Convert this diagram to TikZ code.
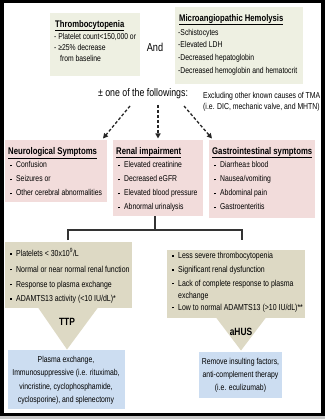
\documentclass[tikz,border=0pt]{standalone}
\usepackage{fontspec}
\setmainfont{Liberation Sans}[FakeStretch=0.8]
\usetikzlibrary{arrows.meta,calc}
\definecolor{topbox}{RGB}{238,240,226}
\definecolor{pinkbox}{RGB}{242,220,219}
\definecolor{tanbox}{RGB}{221,217,196}
\definecolor{bluebox}{RGB}{204,221,241}
\newcommand{\bul}{\makebox[6pt][l]{\raisebox{1.6pt}{\rule{1.8pt}{1.8pt}}}}
\begin{document}
\begin{tikzpicture}[x=1pt,y=-1pt,
  panel/.style={anchor=north west,inner sep=0pt,outer sep=0pt,draw=none},
  txt/.style={anchor=west,inner sep=0pt,text height=0.7em,text depth=0.2em,font=\fontsize{8.5}{10}\selectfont},
  txtc/.style={anchor=center,inner sep=0pt,text height=0.7em,text depth=0.2em,font=\fontsize{8.6}{10}\selectfont},
  head/.style={anchor=west,inner sep=0pt,text height=0.7em,text depth=0.25em,font=\bfseries\fontsize{9.7}{11}\selectfont},
  big/.style={anchor=center,inner sep=0pt,font=\fontsize{11}{13}\selectfont},
  lbl/.style={anchor=center,inner sep=0pt,font=\bfseries\fontsize{10.5}{12}\selectfont},
  dasharrow/.style={draw=black!85,line width=1.3pt,dash pattern=on 3pt off 2pt,-{Triangle[length=5pt,width=5pt]}},
  bracket/.style={draw=black!80,line width=1.2pt}]
\useasboundingbox (0,0) rectangle (325,419);
% frame
\fill[black] (0,0) rectangle (325,416);
\fill[white] (4,3) rectangle (321,413);
\fill[black!22] (0,416) rectangle (325,419);

% top boxes
\node[panel,fill=topbox,minimum width=90pt,minimum height=63pt] (thr) at (50,13) {};
\node[head,font=\bfseries\fontsize{9.6}{11}\selectfont] (thr-h) at (55,25) {\underline{Thrombocytopenia}};
\node[txt] (thr-1) at (54,37) {- Platelet count<150,000 or};
\node[txt] (thr-2) at (54,48) {- ≥25\% decrease};
\node[txt] (thr-3) at (60,59) {from baseline};

\node[panel,fill=topbox,minimum width=128pt,minimum height=77pt] (mah) at (175,7) {};
\node[head,font=\bfseries\fontsize{9.6}{11}\selectfont] (mah-h) at (179,19) {\underline{Microangiopathic Hemolysis}};
\node[txt] (mah-1) at (178,33) {-Schistocytes};
\node[txt] (mah-2) at (178,45) {-Elevated LDH};
\node[txt] (mah-3) at (178,58) {-Decreased hepatoglobin};
\node[txt] (mah-4) at (178,71) {-Decreased hemoglobin and hematocrit};

\node[big,font=\fontsize{11.5}{13}\selectfont] (and) at (155,47) {And};
\node[big] (one) at (143,94) {± one of the followings:};
\node[txt,font=\fontsize{8.6}{10}\selectfont] (ex-1) at (203,96) {Excluding other known causes of TMA};
\node[txt,font=\fontsize{8.6}{10}\selectfont] (ex-2) at (203,107) {(i.e. DIC, mechanic valve, and MHTN)};

% pink boxes
\node[panel,fill=pinkbox,minimum width=102pt,minimum height=62pt] (neuro) at (5,140) {};
\node[head] (neuro-h) at (8,152) {\underline{Neurological Symptoms}};
\node[txt] (neuro-1) at (10,165.5) {\bul Confusion};
\node[txt] (neuro-2) at (10,179.5) {\bul Seizures or};
\node[txt] (neuro-3) at (10,193.5) {\bul Other cerebral abnormalities};

\node[panel,fill=pinkbox,minimum width=90pt,minimum height=76pt] (renal) at (113,140) {};
\node[head] (renal-h) at (116,152) {\underline{Renal impairment}};
\node[txt] (renal-1) at (118,165.5) {\bul Elevated creatinine};
\node[txt] (renal-2) at (118,179.5) {\bul Decreased eGFR};
\node[txt] (renal-3) at (118,193.5) {\bul Elevated blood pressure};
\node[txt] (renal-4) at (118,207.5) {\bul Abnormal urinalysis};

\node[panel,fill=pinkbox,minimum width=106pt,minimum height=78pt] (gi) at (209,140) {};
\node[head] (gi-h) at (212,152) {\underline{Gastrointestinal symptoms}};
\node[txt] (gi-1) at (214,165.5) {\bul Diarrhea± blood};
\node[txt] (gi-2) at (214,179.5) {\bul Nausea/vomiting};
\node[txt] (gi-3) at (214,193.5) {\bul Abdominal pain};
\node[txt] (gi-4) at (214,207.5) {\bul Gastroenteritis};

% dashed arrows
\coordinate (a1) at (130,106);
\coordinate (a2) at (158,105);
\coordinate (a3) at (184,106);
\draw[dasharrow] (a1) -- ([xshift=-4pt,yshift=1.5pt]neuro.north east);
\draw[dasharrow] (a2) -- ([yshift=1.5pt]renal.north);
\draw[dasharrow] (a3) -- ([xshift=3pt,yshift=1.5pt]gi.north west);

% callouts
\node[panel,fill=tanbox,minimum width=127pt,minimum height=66pt] (ttpbox) at (5,242) {};
\coordinate (ttpapex) at (67,349.5);
\fill[tanbox] (38,307.5) -- (ttpapex) -- (98,307.5) -- cycle;
\node[txt,font=\fontsize{8.7}{10}\selectfont] (ttp-1) at (10,254) {\bul Platelets < 30x10\textsuperscript{9}/L};
\node[txt,font=\fontsize{8.7}{10}\selectfont] (ttp-2) at (10,269.5) {\bul Normal or near normal renal function};
\node[txt,font=\fontsize{8.7}{10}\selectfont] (ttp-3) at (10,284.5) {\bul Response to plasma exchange};
\node[txt,font=\fontsize{8.7}{10}\selectfont] (ttp-4) at (10,299) {\bul ADAMTS13 activity (<10 IU/dL)*};
\node[lbl] (ttp) at (67,322) {TTP};

\node[panel,fill=tanbox,minimum width=138pt,minimum height=68pt] (ahusbox) at (167,250) {};
\coordinate (ahusapex) at (241,350.5);
\fill[tanbox] (216,317.5) -- (ahusapex) -- (266,317.5) -- cycle;
\node[txt,font=\fontsize{8.7}{10}\selectfont] (ah-1) at (172,256) {\bul Less severe thrombocytopenia};
\node[txt,font=\fontsize{8.7}{10}\selectfont] (ah-2) at (172,270) {\bul Significant renal dysfunction};
\node[txt,font=\fontsize{8.7}{10}\selectfont] (ah-3) at (172,283.5) {\bul Lack of complete response to plasma};
\node[txt,font=\fontsize{8.7}{10}\selectfont] (ah-4) at (178,295.5) {exchange};
\node[txt,font=\fontsize{8.7}{10}\selectfont] (ah-5) at (172,307.5) {\bul Low to normal ADAMTS13 (>10 IU/dL)**};
\node[lbl] (ahus) at (241,332) {aHUS};

% bracket
\coordinate (bm) at (155,230);
\coordinate (bl) at (68,230);
\coordinate (br) at (242,230);
\draw[bracket] (bm |- renal.south) -- (bm);
\draw[bracket] ([yshift=2pt]ttpbox.north -| bl) -- (bl) -- (br) -- ++(0,10);

% treatment boxes
\node[panel,fill=bluebox,minimum width=117pt,minimum height=59pt] (ttptx) at (8,349.5) {};
\node[txtc] (ttptx-1) at (66,360) {Plasma exchange,};
\node[txtc] (ttptx-2) at (66,373) {Immunosuppressive (i.e. rituximab,};
\node[txtc] (ttptx-3) at (66,386.5) {vincristine, cyclophosphamide,};
\node[txtc] (ttptx-4) at (66,400) {cyclosporine), and splenectomy};

\node[panel,fill=bluebox,minimum width=83pt,minimum height=46pt] (ahustx) at (199,352) {};
\node[txtc] (ahustx-1) at (240.5,362) {Remove insulting factors,};
\node[txtc] (ahustx-2) at (240.5,375) {anti-complement therapy};
\node[txtc] (ahustx-3) at (240.5,388) {(i.e. eculizumab)};
\end{tikzpicture}
\end{document}
